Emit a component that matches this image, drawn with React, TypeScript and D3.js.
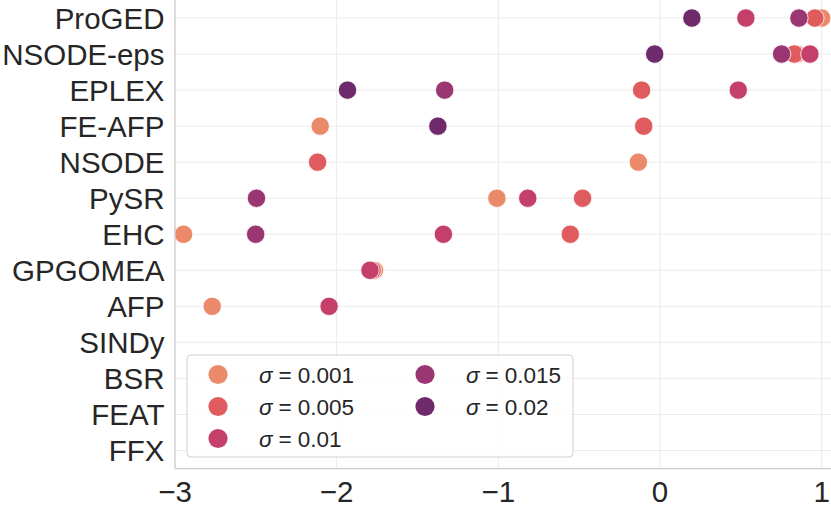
import { useEffect, useRef } from "react";
import * as d3 from "d3";

const methods = [
  "ProGED", "NSODE-eps", "EPLEX", "FE-AFP", "NSODE", "PySR", "EHC",
  "GPGOMEA", "AFP", "SINDy", "BSR", "FEAT", "FFX",
];

const sigmas = ["0.001", "0.005", "0.01", "0.015", "0.02"];
const colors = ["#eb8a6a", "#e05b5d", "#c4406a", "#9a3671", "#6e2a6b"];

// one value per method, null = not shown
const s001 = [1.0, 0.845, null, -2.102, -0.134, -1.009, -2.947, -1.766, -2.77, null, null, null, null];
const s005 = [0.958, 0.83, -0.114, -0.101, -2.118, -0.479, -0.555, -1.78, null, null, null, null, null];
const s010 = [0.531, 0.927, 0.484, null, null, -0.818, -1.34, -1.794, -2.047, null, null, null, null];
const s015 = [0.859, 0.752, -1.332, null, null, -2.496, -2.501, null, null, null, null, null, null];
const s020 = [0.197, -0.033, -1.933, -1.374, null, null, null, null, null, null, null, null, null];
const series = [s001, s005, s010, s015, s020];

const xTicks = [-3, -2, -1, 0, 1];

export default function App() {
  const ref = useRef<SVGSVGElement | null>(null);

  useEffect(() => {
    if (!ref.current) return;
    const width = 831;
    const left = 175;
    const bottom = 468.5;
    const font = "'Liberation Sans', Arial, sans-serif";
    const textColor = "#262626";

    const svg = d3.select(ref.current);
    svg.selectAll("*").remove();

    const x = d3.scaleLinear().domain([-3, 1]).range([left, 821.7]);
    const y = d3.scalePoint<string>().domain(methods).range([0, bottom]).padding(0.5);

    svg.append("defs")
      .append("clipPath")
      .attr("id", "plot-clip")
      .append("rect")
      .attr("x", left)
      .attr("y", 0)
      .attr("width", width - left)
      .attr("height", bottom);

    // grid
    const grid = svg.append("g").attr("stroke", "#ebebeb").attr("stroke-width", 1);
    grid.selectAll("line.v")
      .data(xTicks)
      .join("line")
      .attr("class", "v")
      .attr("x1", (d) => x(d))
      .attr("x2", (d) => x(d))
      .attr("y1", 0)
      .attr("y2", bottom);
    grid.selectAll("line.h")
      .data(methods)
      .join("line")
      .attr("class", "h")
      .attr("x1", left)
      .attr("x2", width)
      .attr("y1", (d) => y(d)!)
      .attr("y2", (d) => y(d)!);

    // points
    const pts = series.flatMap((vals, si) =>
      vals.map((v, i) => ({ v, m: methods[i], si })).filter((d) => d.v !== null)
    );
    svg.append("g")
      .attr("clip-path", "url(#plot-clip)")
      .selectAll("circle")
      .data(pts)
      .join("circle")
      .attr("cx", (d) => x(d.v as number))
      .attr("cy", (d) => y(d.m)!)
      .attr("r", 9.2)
      .attr("fill", (d) => colors[d.si])
      .attr("stroke", "white")
      .attr("stroke-width", 0.8);

    // spines
    svg.append("line")
      .attr("x1", left).attr("x2", left)
      .attr("y1", 0).attr("y2", bottom)
      .attr("stroke", "#cccccc").attr("stroke-width", 1.25);
    svg.append("line")
      .attr("x1", left).attr("x2", width)
      .attr("y1", bottom).attr("y2", bottom)
      .attr("stroke", "#cccccc").attr("stroke-width", 1.25);

    // y labels
    svg.append("g")
      .attr("font-family", font)
      .attr("font-size", 29.5)
      .attr("fill", textColor)
      .attr("text-anchor", "end")
      .selectAll("text")
      .data(methods)
      .join("text")
      .attr("x", 164.5)
      .attr("y", (d) => y(d)!)
      .attr("dy", "0.36em")
      .text((d) => d);

    // x labels
    svg.append("g")
      .attr("font-family", font)
      .attr("font-size", 29.5)
      .attr("fill", textColor)
      .attr("text-anchor", "middle")
      .selectAll("text")
      .data(xTicks)
      .join("text")
      .attr("x", (d) => x(d))
      .attr("y", 501.5)
      .text((d) => (d < 0 ? "\u2212" + Math.abs(d) : String(d)));

    // legend
    const lg = svg.append("g");
    lg.append("rect")
      .attr("x", 187)
      .attr("y", 355)
      .attr("width", 386)
      .attr("height", 102)
      .attr("rx", 4)
      .attr("fill", "white")
      .attr("fill-opacity", 0.8)
      .attr("stroke", "#d0d0d0")
      .attr("stroke-width", 1);

    const items = sigmas.map((s, i) => ({
      s,
      i,
      col: i < 3 ? 0 : 1,
      row: i < 3 ? i : i - 3,
    }));
    const item = lg.selectAll("g.item")
      .data(items)
      .join("g")
      .attr("class", "item")
      .attr("transform", (d) => `translate(${d.col === 0 ? 218 : 425},${374.5 + d.row * 32})`);
    item.append("circle")
      .attr("r", 9.6)
      .attr("fill", (d) => colors[d.i]);
    const t = item.append("text")
      .attr("x", 41)
      .attr("dy", "0.36em")
      .attr("font-family", font)
      .attr("font-size", 22.5)
      .attr("fill", textColor);
    t.append("tspan").attr("font-style", "italic").text("\u03c3");
    t.append("tspan").attr("dx", 6).text("=");
    t.append("tspan").attr("dx", 6).text((d) => d.s);
  }, []);

  return (
    <svg
      ref={ref}
      width={831}
      height={507}
      style={{ position: "absolute", left: 0, top: 0, background: "white" }}
    />
  );
}
